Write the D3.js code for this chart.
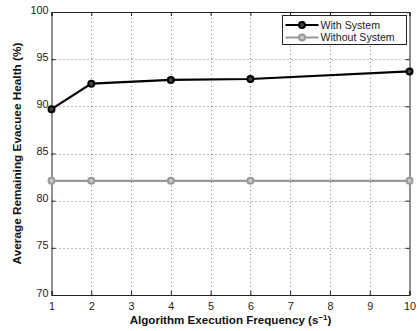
<!DOCTYPE html>
<html><head><meta charset="utf-8">
<script src="https://cdn.jsdelivr.net/npm/d3@7"></script>
<style>body{margin:0;background:#fff}svg{display:block}</style>
</head><body>
<script>
const freq = [1, 2, 4, 6, 10];
const withSystem = [89.7, 92.4, 92.8, 92.9, 93.7];
const withoutSystem = [82.1, 82.1, 82.1, 82.1, 82.1];
const xTicks = [1,2,3,4,5,6,7,8,9,10];
const yTicks = [70,75,80,85,90,95,100];
const seriesNames = ["With System", "Without System"];

const W = 419, H = 331;
const m = {l: 51.5, r: 9.5, t: 12, b: 36};
const svg = d3.select("body").append("svg").attr("width", W).attr("height", H);
const x = d3.scaleLinear().domain([1,10]).range([m.l, W - m.r]);
const y = d3.scaleLinear().domain([70,100]).range([H - m.b, m.t]);
const font = "Helvetica, 'Liberation Sans', Arial, sans-serif";

// grid
const g = svg.append("g");
g.selectAll(".gx").data(xTicks.slice(1,-1)).join("line")
  .attr("x1", d => Math.round(x(d))+0.5).attr("x2", d => Math.round(x(d))+0.5)
  .attr("y1", y(70)).attr("y2", y(100))
  .attr("stroke", "#333").attr("stroke-width", 0.6).attr("stroke-dasharray", "1,3");
g.selectAll(".gy").data(yTicks.slice(1,-1)).join("line")
  .attr("y1", d => Math.round(y(d))+0.5).attr("y2", d => Math.round(y(d))+0.5)
  .attr("x1", x(1)).attr("x2", x(10))
  .attr("stroke", "#333").attr("stroke-width", 0.6).attr("stroke-dasharray", "1,3");

// axes (ticks inward)
const xAx = svg.append("g").attr("transform", `translate(0,${y(70)})`)
  .call(d3.axisBottom(x).tickValues(xTicks).tickSize(-4).tickPadding(7).tickFormat(d3.format("d")));
const xAxTop = svg.append("g").attr("transform", `translate(0,${y(100)})`)
  .call(d3.axisTop(x).tickValues(xTicks).tickSize(-4).tickFormat(""));
const yAx = svg.append("g").attr("transform", `translate(${x(1)},0)`)
  .call(d3.axisLeft(y).tickValues(yTicks).tickSize(-4).tickPadding(3).tickFormat(d3.format("d")));
const yAxR = svg.append("g").attr("transform", `translate(${x(10)},0)`)
  .call(d3.axisRight(y).tickValues(yTicks).tickSize(-4).tickFormat(""));
[xAx, xAxTop, yAx, yAxR].forEach(a => {
  a.select(".domain").attr("stroke", "#222").attr("stroke-width", 1);
  a.selectAll(".tick line").attr("stroke", "#222");
  a.selectAll("text").attr("font-family", font).attr("font-size", 10.8).attr("fill", "#222");
});
yAx.selectAll("text").attr("dy", "0.1em");

// lines
const line = d3.line().x((d,i) => x(freq[i])).y(d => y(d));
function drawSeries(vals, color) {
  svg.append("path").datum(vals).attr("d", line).attr("fill", "none")
    .attr("stroke", color).attr("stroke-width", 2.2);
  svg.selectAll(null).data(vals).join("circle")
    .attr("cx", (d,i) => x(freq[i])).attr("cy", d => y(d)).attr("r", 3)
    .attr("fill", color === "#000" ? "#444" : "#c8c8c8").attr("stroke", color).attr("stroke-width", 2);
}
drawSeries(withoutSystem, "#999");
drawSeries(withSystem, "#000");

// legend
const lg = svg.append("g");
const lx = 282.5, ly = 15.5, lw = 124, lh = 29;
lg.append("rect").attr("x", lx).attr("y", ly).attr("width", lw).attr("height", lh)
  .attr("fill", "#fff").attr("stroke", "#222").attr("stroke-width", 1);
const colors = ["#000", "#999"];
seriesNames.forEach((n, i) => {
  const yy = ly + 9.5 + i * 12.5;
  lg.append("line").attr("x1", lx + 3).attr("x2", lx + 36).attr("y1", yy).attr("y2", yy)
    .attr("stroke", colors[i]).attr("stroke-width", 2.2);
  lg.append("circle").attr("cx", lx + 19.5).attr("cy", yy).attr("r", 3)
    .attr("fill", i === 0 ? "#444" : "#c8c8c8").attr("stroke", colors[i]).attr("stroke-width", 2);
  lg.append("text").attr("x", lx + 38).attr("y", yy).attr("dy", "0.35em")
    .attr("font-family", font).attr("font-size", 10.6).attr("fill", "#222").text(n);
});

// axis labels
const xl = svg.append("text").attr("x", (x(1)+x(10))/2).attr("y", 324)
  .attr("text-anchor", "middle").attr("font-family", font).attr("font-size", 11.6)
  .attr("font-weight", "bold").attr("fill", "#111");
xl.append("tspan").text("Algorithm Execution Frequency (s");
xl.append("tspan").attr("dy", -4.5).attr("font-size", 8).text("−1");
xl.append("tspan").attr("dy", 4.5).text(")");

svg.append("text").attr("transform", `translate(20.5,${(y(70)+y(100))/2}) rotate(-90)`)
  .attr("text-anchor", "middle").attr("font-family", font).attr("font-size", 11.8)
  .attr("font-weight", "bold").attr("fill", "#111")
  .text("Average Remaining Evacuee Health (%)");
</script>
</body></html>
